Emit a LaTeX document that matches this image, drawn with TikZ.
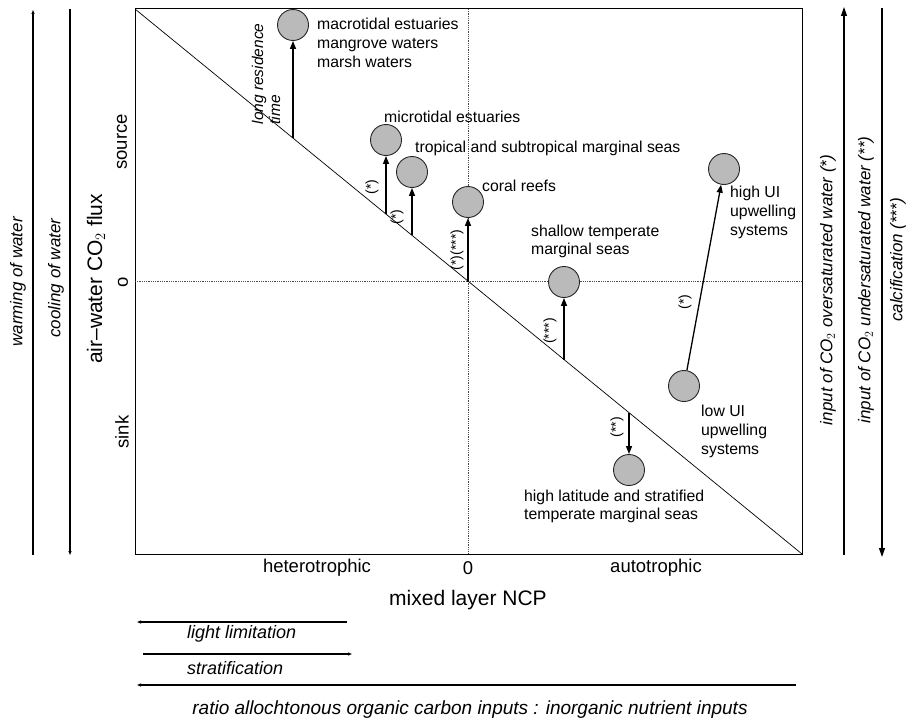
\documentclass[tikz,border=0pt]{standalone}
\usepackage{fontspec}
\setmainfont{Liberation Sans}
\usetikzlibrary{arrows.meta}
\begin{document}
\begin{tikzpicture}[x=1pt,y=-1pt,
  site/.style={circle,draw=black!85,line width=0.9pt,fill=black!27,minimum size=31pt,inner sep=0pt},
  arr/.style={line width=1.3pt,-{Triangle[length=8pt,width=6pt]}},
  sidehead/.style={line width=1.1pt,-{Triangle[length=9pt,width=6pt]}},
  smallhead/.style={line width=1.1pt,-{Triangle[length=4pt,width=3pt]}},
  lab/.style={font=\fontsize{15.8}{19}\selectfont,align=left,inner sep=0pt},
  ast/.style={font=\fontsize{14}{16}\selectfont,inner sep=0pt},
  itl/.style={font=\fontsize{17}{19}\selectfont\itshape,inner sep=0pt},
  btl/.style={font=\fontsize{18}{20}\selectfont\itshape,inner sep=0pt},
  axl/.style={font=\fontsize{18.5}{20}\selectfont,inner sep=0pt},
  big/.style={font=\fontsize{21}{23}\selectfont,inner sep=0pt}]
\useasboundingbox (0,0) rectangle (907,725);
% box and axes
\coordinate (tl) at (135,9);
\coordinate (br) at (802,554);
\coordinate (c) at (468,281.5);
\draw[line width=1pt] (tl) rectangle (br);
\draw[densely dotted,black!70,line width=0.8pt] (135,281.5) -- (802,281.5);
\draw[densely dotted,black!70,line width=0.8pt] (468,9) -- (468,554);
\draw[line width=0.7pt] (tl) -- (br);
% sites
\node[site] (mac) at (293,25) {};
\node[site] (mic) at (386,140) {};
\node[site] (tro) at (412,172) {};
\node[site] (cor) at (468,202) {};
\node[site] (sha) at (564,282) {};
\node[site] (hui) at (724,169) {};
\node[site] (lui) at (684,386) {};
\node[site] (hla) at (629,470) {};
\coordinate (mac0) at (293,138.1);
\coordinate (mic0) at (386,214.1);
\coordinate (tro0) at (412,235.3);
\coordinate (sha0) at (564,359.5);
\coordinate (hla0) at (629,412.6);
\draw[arr] (mac0) -- (mac);
\draw[arr] (mic0) -- (mic);
\draw[arr] (tro0) -- (tro);
\draw[arr] (c) -- (cor);
\draw[arr] (sha0) -- (sha);
\draw[arr] (lui) -- (hui);
\draw[arr] (hla0) -- (hla);
% site labels
\node[lab,anchor=west] (macl) at (317,43) {macrotidal estuaries\\mangrove waters\\marsh waters};
\node[lab,anchor=west] (micl) at (384,117) {microtidal estuaries};
\node[lab,anchor=west] (trol) at (415,148) {tropical and subtropical marginal seas};
\node[lab,anchor=west] (corl) at (482,186) {coral reefs};
\node[lab,anchor=west,font=\fontsize{15.8}{18}\selectfont] (shal) at (531,241) {shallow temperate\\marginal seas};
\node[lab,anchor=west] (huil) at (730,212) {high UI\\upwelling\\systems};
\node[lab,anchor=west] (luil) at (701,431) {low UI\\upwelling\\systems};
\node[lab,anchor=west,font=\fontsize{15.8}{18}\selectfont] (hlal) at (524,506) {high latitude and stratified\\temperate marginal seas};
\node[lab,rotate=90,font=\fontsize{15.5}{17}\selectfont\itshape] (lrt) at (266,74) {long residence\\time};
% asterisk labels
\node[ast,rotate=90] (a1) at (372,187) {(*)};
\node[ast,rotate=90] (a2) at (397,217) {(*)};
\node[ast,rotate=90] (a3) at (457,250) {(*)(***)};
\node[ast,rotate=90] (a4) at (550,331) {(***)};
\node[ast,rotate=90] (a5) at (685,302) {(*)};
\node[ast,rotate=90] (a6) at (617,427) {(**)};
% y-axis labels
\node[axl,rotate=90] (src) at (122,142) {source};
\node[axl,rotate=90] (zer) at (123,282) {o};
\node[axl,rotate=90] (snk) at (122,432) {sink};
\node[big,rotate=90] (yax) at (96,279) {air–water CO$_2$ flux};
% left process arrows
\coordinate (w0) at (33,555); \coordinate (w1) at (33,10);
\coordinate (k0) at (70,9); \coordinate (k1) at (70,555);
\draw[smallhead] (w0) -- (w1);
\draw[smallhead] (k0) -- (k1);
\node[itl,rotate=90] (wl) at (18,282) {warming of water};
\node[itl,rotate=90] (kl) at (56,278) {cooling of water};
% right process arrows
\coordinate (o0) at (844,555); \coordinate (o1) at (844,7);
\coordinate (u0) at (882,8); \coordinate (u1) at (882,557);
\draw[sidehead] (o0) -- (o1);
\draw[sidehead] (u0) -- (u1);
\node[itl,rotate=90] (ol) at (828,290) {input of CO$_2$ oversaturated water (*)};
\node[itl,rotate=90] (ul) at (866,280) {input of CO$_2$ undersaturated water (**)};
\node[itl,rotate=90] (cl) at (898,260) {calcification (***)};
% x-axis labels
\node[axl] (het) at (317,568) {heterotrophic};
\node[axl] (x0) at (468,568) {0};
\node[axl] (aut) at (656,568) {autotrophic};
\node[big] (xax) at (468,600) {mixed layer NCP};
% bottom process arrows
\coordinate (l0) at (347,622); \coordinate (l1) at (137,622);
\coordinate (s0) at (143,654); \coordinate (s1) at (352,654);
\coordinate (r0) at (796,685); \coordinate (r1) at (137,685);
\draw[smallhead] (l0) -- (l1);
\draw[smallhead] (s0) -- (s1);
\draw[smallhead] (r0) -- (r1);
\node[btl,anchor=west] (ll) at (187,634) {light limitation};
\node[btl,anchor=west] (sl) at (187,668) {stratification};
\node[btl,font=\fontsize{19}{21}\selectfont\itshape] (rl) at (470,710) {ratio allochtonous organic carbon inputs : inorganic nutrient inputs};
\end{tikzpicture}
\end{document}
